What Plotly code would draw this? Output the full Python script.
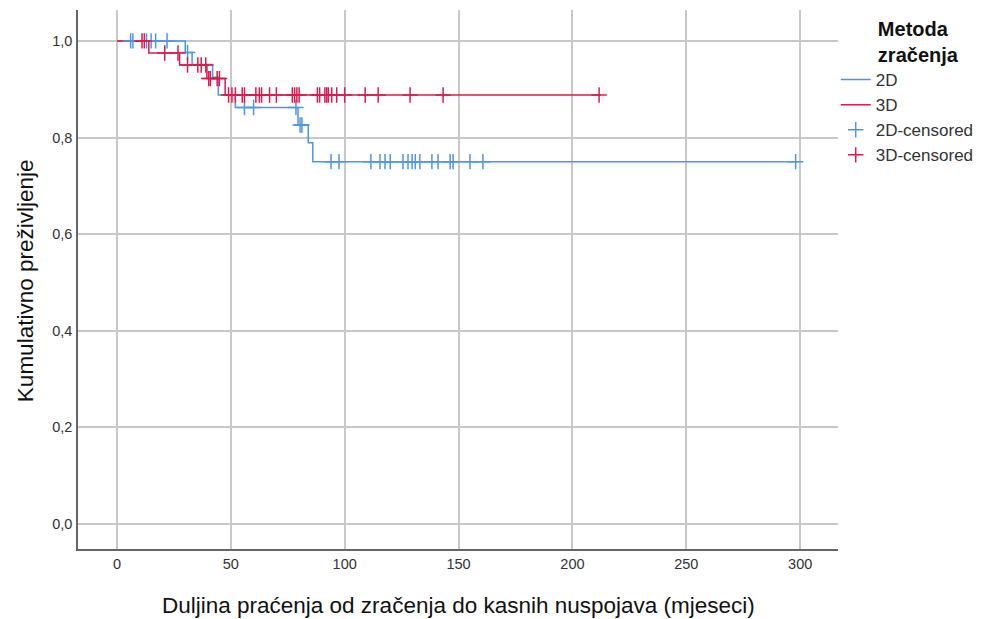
import plotly.graph_objects as go

# Kaplan-Meier steps (months, cumulative survival)
t_2d = [0, 30, 33, 42, 44.5, 52, 79.5, 84, 86, 299]
s_2d = [1.0, 0.976, 0.951, 0.925, 0.888, 0.862, 0.826, 0.789, 0.750, 0.750]
t_3d = [0, 14, 27.5, 39.5, 47.5, 212.5]
s_3d = [1.0, 0.975, 0.950, 0.922, 0.888, 0.888]

# censored observation times
cens_2d = [6, 7, 13, 15, 17, 22, 31, 56, 60, 78.6, 80.4, 81.2,
           94, 97.5, 111.5, 115.5, 117.7, 120, 125.6, 127.8, 129.6, 131,
           133, 138.3, 141, 146.3, 147.6, 155, 160.7, 298]
cens_3d = [11, 12, 21, 26.8, 31, 35.5, 37, 39, 40.3, 41, 44, 45,
           49, 50.5, 52, 55, 56, 61, 62.5, 63.5, 67, 70, 77, 78, 79, 80,
           88, 89, 91.3, 92.1, 92.8, 94.3, 96.5, 100, 109, 114.7, 128.7, 143.2, 211.7]

y_ticks = [0.0, 0.2, 0.4, 0.6, 0.8, 1.0]
y_labels = ["0,0", "0,2", "0,4", "0,6", "0,8", "1,0"]
x_ticks = [0, 50, 100, 150, 200, 250, 300]

BLUE = "#4F95E3"
RED = "#D61E4C"


def surv_at(times, surv, t):
    s = surv[0]
    for ti, si in zip(times, surv):
        if ti <= t:
            s = si
    return s


fig = go.Figure()
fig.add_trace(go.Scatter(x=t_2d, y=s_2d, mode="lines", line_shape="hv",
                         line=dict(color=BLUE, width=1.5), name="2D"))
fig.add_trace(go.Scatter(x=t_3d, y=s_3d, mode="lines", line_shape="hv",
                         line=dict(color=RED, width=1.5), name="3D"))
fig.add_trace(go.Scatter(x=cens_2d, y=[surv_at(t_2d, s_2d, t) for t in cens_2d],
                         mode="markers", name="2D-censored",
                         marker=dict(symbol="cross-thin", size=11,
                                     line=dict(color=BLUE, width=1.5))))
fig.add_trace(go.Scatter(x=cens_3d, y=[surv_at(t_3d, s_3d, t) for t in cens_3d],
                         mode="markers", name="3D-censored",
                         marker=dict(symbol="cross-thin", size=11,
                                     line=dict(color=RED, width=1.5))))

pad = "&nbsp;" * 4

# page body has an 8px margin, so the figure is a bit smaller than the window
fig.update_layout(
    width=973, height=611,
    margin=dict(l=70, r=143, t=2, b=70, autoexpand=False),
    paper_bgcolor="white", plot_bgcolor="white",
    font=dict(family="Arial, Liberation Sans, sans-serif", color="#222"),
    legend=dict(
        title=dict(text=f"<b>{pad}Metoda<br>{pad}zračenja</b>", side="top center",
                   font=dict(size=20, color="#111")),
        x=0.997, y=1.0, xanchor="left", yanchor="top",
        font=dict(size=17, color="#333"),
        bgcolor="rgba(0,0,0,0)", tracegroupgap=0, itemwidth=30,
    ),
    xaxis=dict(
        range=[-17.1, 316.6], tickvals=x_ticks, showgrid=True,
        gridcolor="#C8C8C8", gridwidth=1.5, zeroline=False, automargin=False,
        showline=True, linecolor="#666", linewidth=1.5,
        tickfont=dict(size=14.5, color="#333"), ticklabelstandoff=1,
    ),
    yaxis=dict(
        range=[-0.052, 1.064], tickvals=y_ticks, ticktext=y_labels,
        showgrid=True, gridcolor="#C8C8C8", gridwidth=1.5, zeroline=False,
        automargin=False, showline=True, linecolor="#666", linewidth=1.5,
        tickfont=dict(size=14.5, color="#333"), ticklabelstandoff=1,
    ),
    annotations=[
        dict(text="Duljina praćenja od zračenja do kasnih nuspojava (mjeseci)",
             xref="paper", yref="paper", x=0.5, y=-0.104,
             xanchor="center", yanchor="middle", showarrow=False,
             font=dict(size=22.5, color="#111")),
        dict(text="Kumulativno preživljenje", textangle=-90,
             xref="paper", yref="paper", x=-0.0697, y=0.497,
             xanchor="center", yanchor="middle", showarrow=False,
             font=dict(size=22.5, color="#111")),
    ],
)

fig.write_html("out.html")
